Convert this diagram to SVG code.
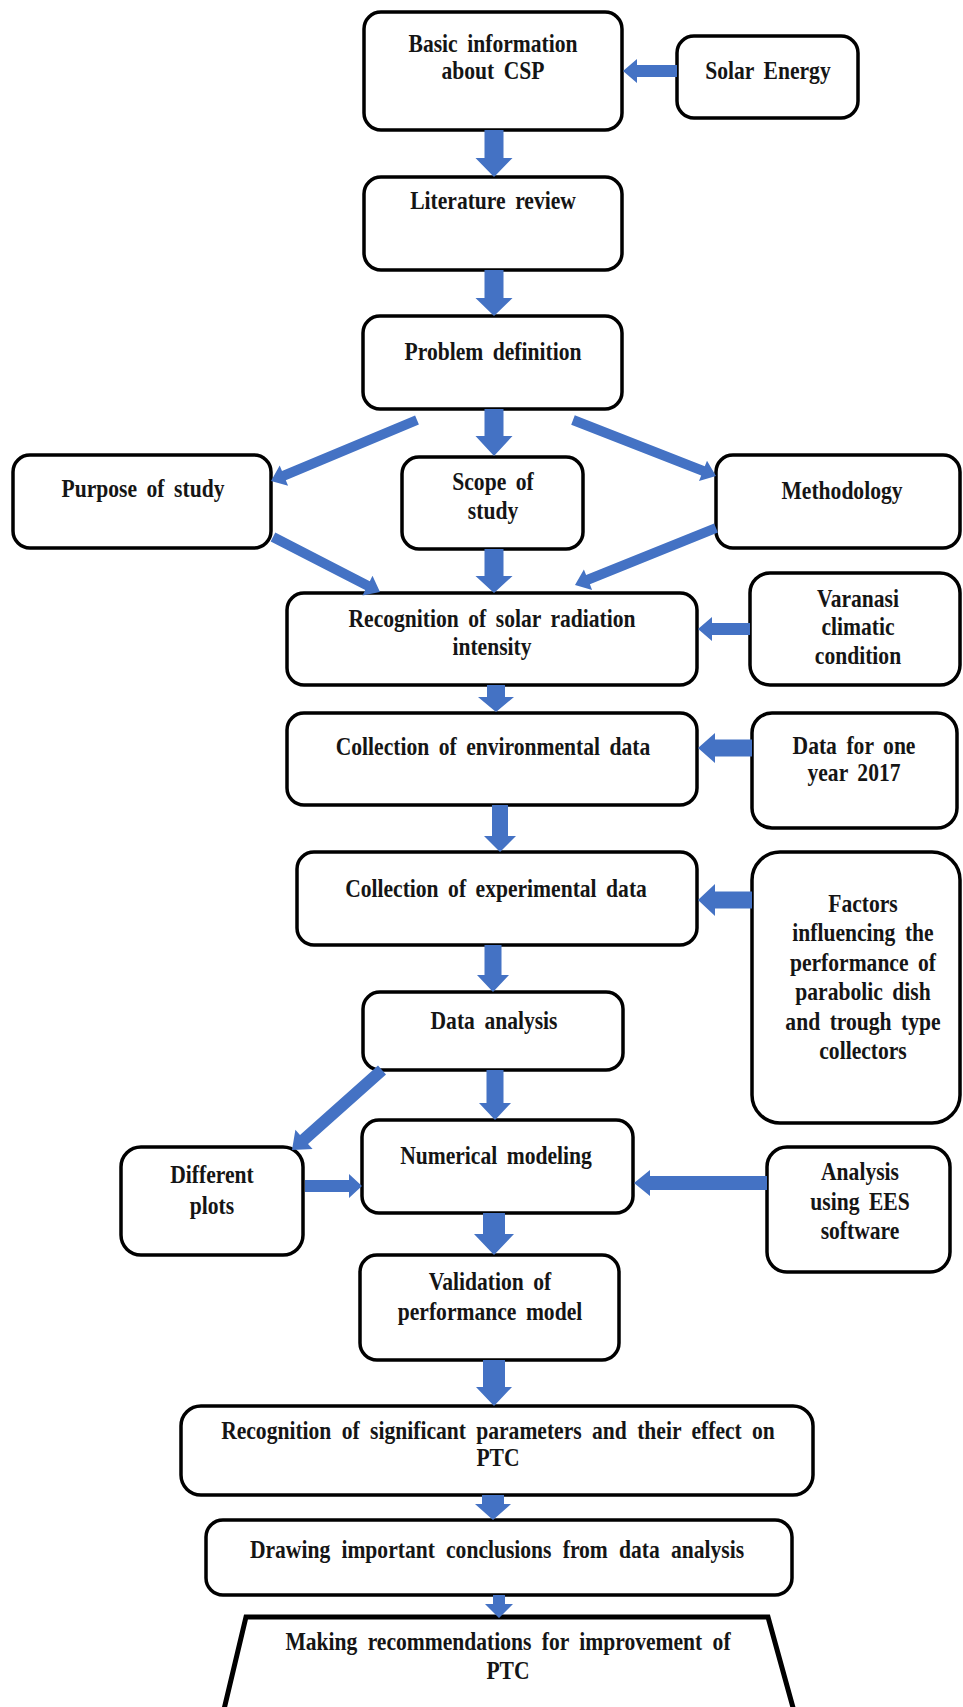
<svg xmlns="http://www.w3.org/2000/svg" width="963" height="1707" viewBox="0 0 963 1707">
<style>
.box{fill:#fff;stroke:#000;stroke-width:3.5}
.arr{fill:#4472C4}
.t{font-family:"Liberation Serif","Times New Roman",serif;font-weight:bold;font-size:26px;fill:#151515;text-anchor:middle;word-spacing:5px}
</style>
<rect x="0" y="0" width="963" height="1707" fill="#fff"/>
<g id="n-basic"><rect class="box" x="364" y="12" width="258" height="118" rx="17"/><text class="t" transform="translate(493,52) scale(0.83,1)"><tspan x="0">Basic information</tspan><tspan x="0" dy="27">about CSP</tspan></text></g>
<g id="n-solar"><rect class="box" x="677" y="36" width="181" height="82" rx="17"/><text class="t" transform="translate(768,79) scale(0.83,1)">Solar Energy</text></g>
<g id="n-lit"><rect class="box" x="364" y="177" width="258" height="93" rx="17"/><text class="t" transform="translate(493,209) scale(0.83,1)">Literature  review</text></g>
<g id="n-prob"><rect class="box" x="363" y="316" width="259" height="93" rx="17"/><text class="t" transform="translate(493,360) scale(0.83,1)">Problem definition</text></g>
<g id="n-purpose"><rect class="box" x="13" y="455" width="258" height="93" rx="17"/><text class="t" transform="translate(143,497) scale(0.83,1)">Purpose of study</text></g>
<g id="n-scope"><rect class="box" x="402" y="457" width="181" height="92" rx="17"/><text class="t" transform="translate(493,490) scale(0.83,1)"><tspan x="0">Scope of</tspan><tspan x="0" dy="29">study</tspan></text></g>
<g id="n-method"><rect class="box" x="716" y="455" width="244" height="93" rx="17"/><text class="t" transform="translate(842,499) scale(0.83,1)">Methodology</text></g>
<g id="n-recog"><rect class="box" x="287" y="593" width="410" height="92" rx="17"/><text class="t" transform="translate(492,627) scale(0.83,1)"><tspan x="0">Recognition of solar radiation</tspan><tspan x="0" dy="28">intensity</tspan></text></g>
<g id="n-varanasi"><rect class="box" x="750" y="573" width="210" height="112" rx="20"/><text class="t" transform="translate(858,607) scale(0.83,1)"><tspan x="0">Varanasi</tspan><tspan x="0" dy="28.5">climatic</tspan><tspan x="0" dy="28.5">condition</tspan></text></g>
<g id="n-env"><rect class="box" x="287" y="713" width="410" height="92" rx="17"/><text class="t" transform="translate(493,755) scale(0.83,1)">Collection of environmental data</text></g>
<g id="n-data2017"><rect class="box" x="752" y="713" width="205" height="115" rx="20"/><text class="t" transform="translate(854,754) scale(0.83,1)"><tspan x="0">Data for one</tspan><tspan x="0" dy="27">year 2017</tspan></text></g>
<g id="n-exp"><rect class="box" x="297" y="852" width="400" height="93" rx="17"/><text class="t" transform="translate(496,897) scale(0.83,1)">Collection of experimental data</text></g>
<g id="n-factors"><rect class="box" x="752" y="852" width="208" height="271" rx="28"/><text class="t" transform="translate(863,912) scale(0.83,1)"><tspan x="0">Factors</tspan><tspan x="0" dy="29.4">influencing the</tspan><tspan x="0" dy="29.4">performance of</tspan><tspan x="0" dy="29.4">parabolic dish</tspan><tspan x="0" dy="29.4">and trough type</tspan><tspan x="0" dy="29.4">collectors</tspan></text></g>
<g id="n-da"><rect class="box" x="363" y="992" width="260" height="78" rx="17"/><text class="t" transform="translate(494,1029) scale(0.83,1)">Data analysis</text></g>
<g id="n-num"><rect class="box" x="362" y="1120" width="271" height="93" rx="17"/><text class="t" transform="translate(496,1164) scale(0.83,1)">Numerical modeling</text></g>
<g id="n-diff"><rect class="box" x="121" y="1147" width="182" height="108" rx="20"/><text class="t" transform="translate(212,1183) scale(0.83,1)"><tspan x="0">Different</tspan><tspan x="0" dy="31">plots</tspan></text></g>
<g id="n-ees"><rect class="box" x="767" y="1147" width="183" height="125" rx="20"/><text class="t" transform="translate(860,1180) scale(0.83,1)"><tspan x="0">Analysis</tspan><tspan x="0" dy="30">using EES</tspan><tspan x="0" dy="29">software</tspan></text></g>
<g id="n-val"><rect class="box" x="360" y="1255" width="259" height="105" rx="17"/><text class="t" transform="translate(490,1290) scale(0.83,1)"><tspan x="0">Validation of</tspan><tspan x="0" dy="30">performance model</tspan></text></g>
<g id="n-recogsig"><rect class="box" x="181" y="1406" width="632" height="89" rx="20"/><text class="t" transform="translate(498,1439) scale(0.83,1)" style="word-spacing:6px"><tspan x="0">Recognition of significant parameters and their effect on</tspan><tspan x="0" dy="27">PTC</tspan></text></g>
<g id="n-drawing"><rect class="box" x="206" y="1520" width="586" height="75" rx="17"/><text class="t" transform="translate(497,1558) scale(0.83,1)" style="word-spacing:7px">Drawing important conclusions from data analysis</text></g>
<g id="n-making"><polygon points="246,1617 768,1617 797,1722 221,1722" fill="#fff" stroke="#000" stroke-width="5" stroke-linejoin="miter"/><text class="t" transform="translate(508,1650) scale(0.83,1)" style="word-spacing:6px"><tspan x="0">Making recommendations  for improvement of</tspan><tspan x="0" dy="29">PTC</tspan></text></g>
<g id="connectors">
<polygon class="arr" points="484.5,130 503.5,130 503.5,158 512.5,158 494,177 475.5,158 484.5,158"/>
<polygon class="arr" points="484.5,270 503.5,270 503.5,298 512.5,298 494,316 475.5,298 484.5,298"/>
<polygon class="arr" points="484.5,409 503.5,409 503.5,436 512.5,436 494,456 475.5,436 484.5,436"/>
<polygon class="arr" points="484.5,549 503.5,549 503.5,576 512.5,576 494,593 475.5,576 484.5,576"/>
<polygon class="arr" points="487,685 505,685 505,697 514,697 496,712 478,697 487,697"/>
<polygon class="arr" points="492,805 508,805 508,836 516,836 500,852 484,836 492,836"/>
<polygon class="arr" points="484.5,945 501.5,945 501.5,975 509,975 493,992 477,975 484.5,975"/>
<polygon class="arr" points="486.5,1070 503.5,1070 503.5,1103 511,1103 495,1120 479,1103 486.5,1103"/>
<polygon class="arr" points="483,1213 505,1213 505,1234 514,1234 494,1255 474,1234 483,1234"/>
<polygon class="arr" points="483,1360 505,1360 505,1387 512,1387 494,1406 476,1387 483,1387"/>
<polygon class="arr" points="482,1495 504,1495 504,1504 511,1504 493,1520 475,1504 482,1504"/>
<polygon class="arr" points="493,1595 505,1595 505,1604 513,1604 499,1618 485,1604 493,1604"/>
<polygon class="arr" points="677,65 677,77 637,77 637,83 623,71 637,59 637,65"/>
<polygon class="arr" points="750,623 750,635 712,635 712,641 698,629 712,617 712,623"/>
<polygon class="arr" points="752,739.5 752,756.5 715,756.5 715,763 698,748 715,733 715,739.5"/>
<polygon class="arr" points="752,891.5 752,908.5 715,908.5 715,916 698,900 715,884 715,891.5"/>
<polygon class="arr" points="767,1176 767,1190 650,1190 650,1196 634,1183 650,1170 650,1176"/>
<polygon class="arr" points="305,1180 305,1192 349,1192 349,1198 362,1186 349,1174 349,1180"/>
<polygon class="arr" points="415.1,415.4 282.0,471.0 279.7,465.4 271,481 288.1,485.8 285.8,480.2 418.9,424.6"/>
<polygon class="arr" points="571.2,424.7 701.2,475.6 699.0,481.1 716,476 707.0,460.7 704.8,466.2 574.8,415.3"/>
<polygon class="arr" points="270.7,541.4 365.2,590.0 362.5,595.4 380,592 372.5,575.8 369.8,581.2 275.3,532.6"/>
<polygon class="arr" points="714.1,523.4 586.1,575.1 583.9,569.5 575,585 592.1,589.9 589.9,584.3 717.9,532.6"/>
<polygon class="arr" points="378.0,1065.5 300.0,1134.9 295.4,1129.7 292,1150 312.6,1149.1 308.0,1143.9 386.0,1074.5"/>
</g>
</svg>
